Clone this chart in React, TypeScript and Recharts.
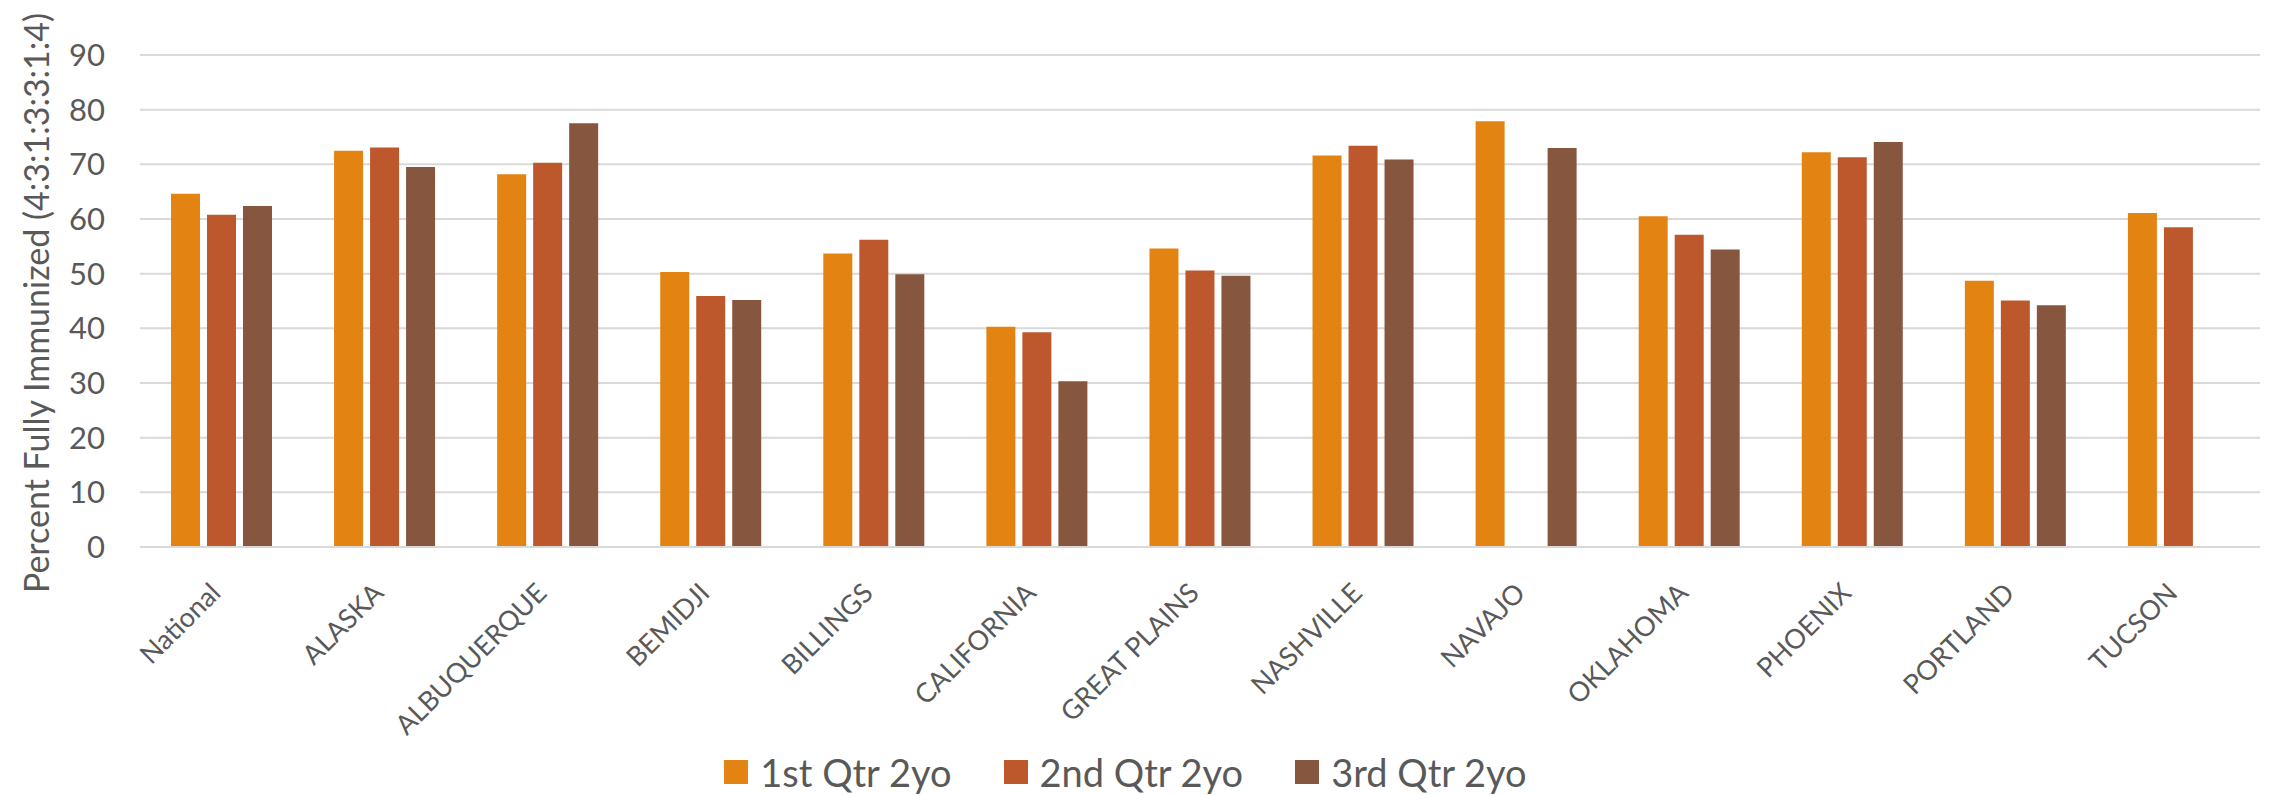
import { BarChart, Bar, XAxis, YAxis, CartesianGrid, Legend } from "recharts";

document.body.style.margin = "0";

const areas = [
  "National",
  "ALASKA",
  "ALBUQUERQUE",
  "BEMIDJI",
  "BILLINGS",
  "CALIFORNIA",
  "GREAT PLAINS",
  "NASHVILLE",
  "NAVAJO",
  "OKLAHOMA",
  "PHOENIX",
  "PORTLAND",
  "TUCSON",
];

const q1 = [64.6, 72.5, 68.2, 50.3, 53.7, 40.3, 54.6, 71.6, 77.9, 60.5, 72.2, 48.7, 61.1];
const q2 = [60.8, 73.1, 70.3, 45.9, 56.2, 39.3, 50.6, 73.4, null, 57.1, 71.3, 45.1, 58.5];
const q3 = [62.4, 69.5, 77.5, 45.2, 49.9, 30.3, 49.6, 70.9, 73.0, 54.4, 74.1, 44.2, null];

const yTicks = [0, 10, 20, 30, 40, 50, 60, 70, 80, 90];

const seriesNames = ["1st Qtr 2yo", "2nd Qtr 2yo", "3rd Qtr 2yo"];
const COLORS = ["#E38312", "#BD582C", "#87563F"];

const data = areas.map((name, i) => ({ name, q1: q1[i], q2: q2[i], q3: q3[i] }));

const FONT = "Lato, 'Open Sans', sans-serif";
const TEXT = "#595959";

function AreaTick(props: any) {
  const { x, y, payload } = props;
  return (
    <g transform={`translate(${x - 6},${y + 33})`}>
      <text
        transform="rotate(-45)"
        textAnchor="end"
        dy="0.35em"
        fill={TEXT}
        fontSize={27}
        fontFamily={FONT}
      >
        {payload.value}
      </text>
    </g>
  );
}

function YTitle() {
  return (
    <text
      transform="translate(35,303) rotate(-90)"
      textAnchor="middle"
      dominantBaseline="central"
      fill={TEXT}
      fontSize={34}
      fontFamily={FONT}
    >
      Percent Fully Immunized (4:3:1:3:3:1:4)
    </text>
  );
}

function LegendBox() {
  return (
    <div
      style={{
        display: "flex",
        justifyContent: "center",
        alignItems: "center",
        gap: 52,
        paddingRight: 9,
        height: 46,
        fontFamily: FONT,
        fontSize: 38,
        color: TEXT,
      }}
    >
      {seriesNames.map((s, i) => (
        <div key={s} style={{ display: "flex", alignItems: "center", gap: 12 }}>
          <div style={{ width: 24, height: 24, background: COLORS[i] }} />
          <span>{s}</span>
        </div>
      ))}
    </div>
  );
}

export default function App() {
  return (
    <BarChart
      width={2272}
      height={795}
      data={data}
      margin={{ top: 55, right: 12, left: 0, bottom: 0 }}
      barSize={29}
      barGap={7}
    >
      <CartesianGrid vertical={false} stroke="#D9D9D9" strokeWidth={2} />
      <XAxis
        dataKey="name"
        interval={0}
        height={202}
        tickLine={false}
        axisLine={{ stroke: "#D9D9D9", strokeWidth: 2 }}
        tick={<AreaTick />}
      />
      <YAxis
        width={140}
        domain={[0, 90]}
        ticks={yTicks}
        axisLine={false}
        tickLine={false}
        tickMargin={29}
        tick={{ fill: TEXT, fontSize: 31, fontFamily: FONT }}
        label={<YTitle />}
      />
      <Legend verticalAlign="bottom" content={<LegendBox />} />
      <Bar dataKey="q1" name={seriesNames[0]} fill={COLORS[0]} isAnimationActive={false} />
      <Bar dataKey="q2" name={seriesNames[1]} fill={COLORS[1]} isAnimationActive={false} />
      <Bar dataKey="q3" name={seriesNames[2]} fill={COLORS[2]} isAnimationActive={false} />
    </BarChart>
  );
}
